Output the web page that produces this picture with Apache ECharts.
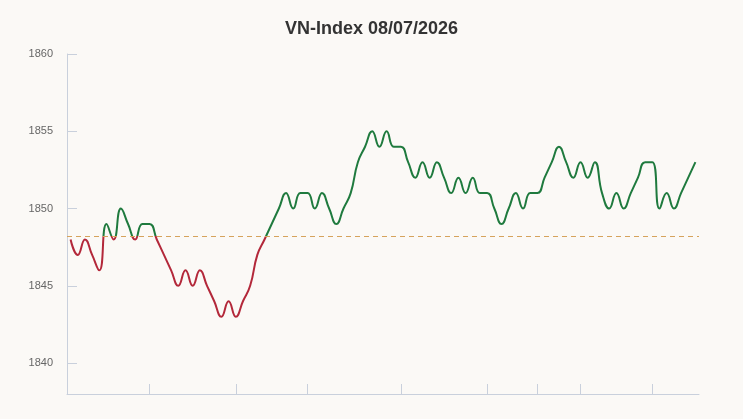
<!DOCTYPE html>
<html>
<head>
<meta charset="utf-8">
<script src="https://cdn.jsdelivr.net/npm/echarts@6/dist/echarts.min.js"></script>
<style>
  html, body { margin: 0; padding: 0; background: #fbf9f6; }
  #chart { width: 743px; height: 419px; }
</style>
</head>
<body>
<div id="chart"></div>
<script>
const title = 'VN-Index 08/07/2026'
// intraday index points
const values = [
  1848, 1847, 1848, 1847, 1846, 1849, 1848, 1850, 1849, 1848,
  1849, 1849, 1848, 1847, 1846, 1845, 1846, 1845, 1846, 1845,
  1844, 1843, 1844, 1843, 1844, 1845, 1847, 1848, 1849, 1850,
  1851, 1850, 1851, 1851, 1850, 1851, 1850, 1849, 1850, 1851,
  1853, 1854, 1855, 1854, 1855, 1854, 1854, 1853, 1852, 1853,
  1852, 1853, 1852, 1851, 1852, 1851, 1852, 1851, 1851, 1850,
  1849, 1850, 1851, 1850, 1851, 1851, 1852, 1853, 1854, 1853,
  1852, 1853, 1852, 1853, 1851, 1850, 1851, 1850, 1851, 1852,
  1853, 1853, 1850, 1851, 1850, 1851, 1852, 1853,
]
// point indexes where the x axis has a tick
const tickIndexes = [11, 23, 33, 46, 58, 65, 71, 81]
const refValue = 1848.23 // previous close
const yMin = 1838
const yMax = 1860

const green = '#1f7a3e'
const red = '#b3283a'
const axisColor = '#c9d0dc'

const points = values.map((v, i) => [i, v])

// green above the reference, red below: hard stop inside the line's own box
const hi = Math.max(...values)
const lo = Math.min(...values)
const cut = (hi - refValue) / (hi - lo)
const lineColor = new echarts.graphic.LinearGradient(0, 0, 0, 1, [
  { offset: 0, color: green },
  { offset: cut, color: green },
  { offset: cut, color: red },
  { offset: 1, color: red },
])

const chart = echarts.init(document.getElementById('chart'), null, { renderer: 'canvas' })
chart.setOption({
  animation: false,
  backgroundColor: '#fbf9f6',
  title: {
    text: title,
    left: 'center',
    top: 15,
    textStyle: {
      fontFamily: 'Liberation Sans, Arial, sans-serif',
      fontSize: 18,
      fontWeight: 'bold',
      color: '#333',
    },
  },
  grid: { left: 67, right: 44, top: 54, bottom: 25 },
  xAxis: {
    type: 'value',
    // half a step of padding on each side, like a band axis
    min: -0.5,
    max: values.length - 0.5,
    axisLine: { show: true, onZero: false, lineStyle: { color: axisColor } },
    axisTick: {
      show: true,
      inside: true,
      length: 10,
      customValues: tickIndexes,
      lineStyle: { color: axisColor },
    },
    axisLabel: { show: false },
    splitLine: { show: false },
  },
  yAxis: {
    type: 'value',
    min: yMin,
    max: yMax,
    axisLine: { show: true, onZero: false, lineStyle: { color: axisColor } },
    axisTick: { show: true, inside: true, length: 10, lineStyle: { color: axisColor } },
    axisLabel: {
      color: '#666',
      fontSize: 11,
      margin: 14,
      fontFamily: 'Liberation Sans, Arial, sans-serif',
      formatter: (v) => (v % 5 === 0 ? String(v) : ''),
    },
    splitLine: { show: false },
  },
  series: [
    {
      type: 'line',
      data: points,
      smooth: true,
      showSymbol: false,
      lineStyle: { width: 2, color: lineColor },
      markLine: {
        silent: true,
        symbol: 'none',
        label: { show: false },
        lineStyle: { color: '#d6a35c', type: [5, 4], width: 1 },
        data: [{ yAxis: refValue }],
      },
    },
  ],
})
</script>
</body>
</html>
